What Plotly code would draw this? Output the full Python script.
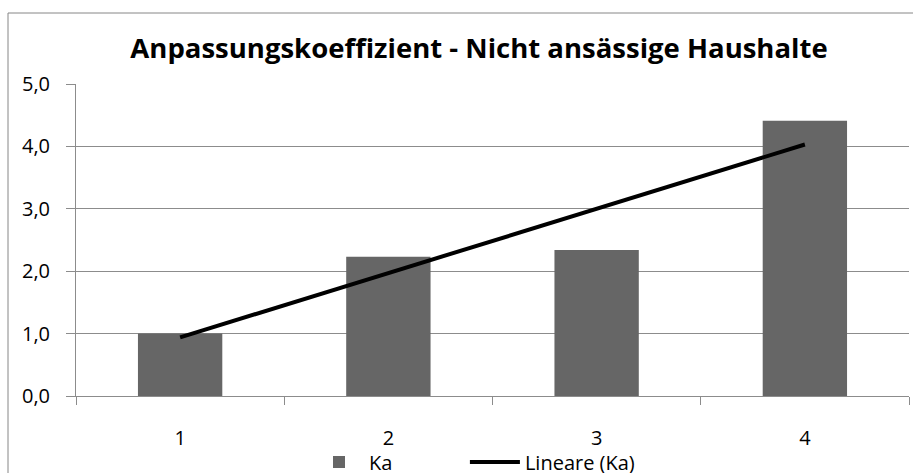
import plotly.graph_objects as go

categories = ["1", "2", "3", "4"]
ka_values = [1.0, 2.23, 2.34, 4.41]
trend_values = [0.94, 1.97, 3.00, 4.03]
y_ticks = [0, 1, 2, 3, 4, 5]

title_text = "Anpassungskoeffizient - Nicht ansässige Haushalte"
bar_name = "Ka"
trend_name = "Lineare (Ka)"
font_main = "Open Sans, sans-serif"

W, H = 913, 473
ml, mr, mt, mb = 76, 4, 84, 77
pw = W - ml - mr
ph = H - mt - mb

fig = go.Figure()
fig.add_trace(go.Bar(
    x=categories, y=ka_values, name=bar_name + "\u00a0" * 13,
    marker=dict(color="#666666", line=dict(width=0)),
    width=0.405,
))
fig.add_trace(go.Scatter(
    x=categories, y=trend_values, name=trend_name,
    mode="lines", line=dict(color="black", width=4),
))

grid = "#8c8c8c"
fig.update_layout(
    width=W, height=H,
    margin=dict(l=ml, r=mr, t=mt, b=mb, autoexpand=False),
    paper_bgcolor="white", plot_bgcolor="white",
    separators=",.",
    title=dict(
        text="<b>" + title_text + "</b>",
        font=dict(family=font_main, size=27.5, color="black"),
        x=479 / W, xanchor="center",
        y=1 - 48 / H, yanchor="middle",
    ),
    xaxis=dict(
        type="category",
        range=[-0.5, 3.5],
        showline=True, linecolor=grid, linewidth=1,
        ticks="outside", ticklen=8, tickcolor=grid, tickson="boundaries",
        showgrid=False,
        tickfont=dict(family=font_main, size=20, color="black"),
        ticklabelstandoff=24,
        automargin=False,
    ),
    yaxis=dict(
        range=[0, 5], tickvals=y_ticks, tickformat=".1f",
        showline=True, linecolor=grid, linewidth=1,
        ticks="outside", ticklen=9, tickcolor=grid,
        showgrid=True, gridcolor=grid, gridwidth=1,
        zeroline=False,
        tickfont=dict(family=font_main, size=20, color="black"),
        ticklabelstandoff=12,
        automargin=False,
    ),
    legend=dict(
        orientation="h",
        x=(309 - ml) / pw, xanchor="left",
        y=-(462 - (H - mb)) / ph, yanchor="middle",
        font=dict(family=font_main, size=20, color="black"),
        bgcolor="rgba(0,0,0,0)",
        itemwidth=50,
    ),
    showlegend=True,
    shapes=[dict(
        type="rect", xref="paper", yref="paper",
        x0=(8 - ml) / pw, x1=(W + 20 - ml) / pw,
        y0=-(H + 20 - (H - mb)) / ph, y1=((H - mb) - 13) / ph,
        line=dict(color="#868686", width=1), fillcolor="rgba(0,0,0,0)",
        layer="below",
    )],
)

fig.write_html("out.html", config={"displayModeBar": False},
               post_script="document.body.style.margin='0px';")
